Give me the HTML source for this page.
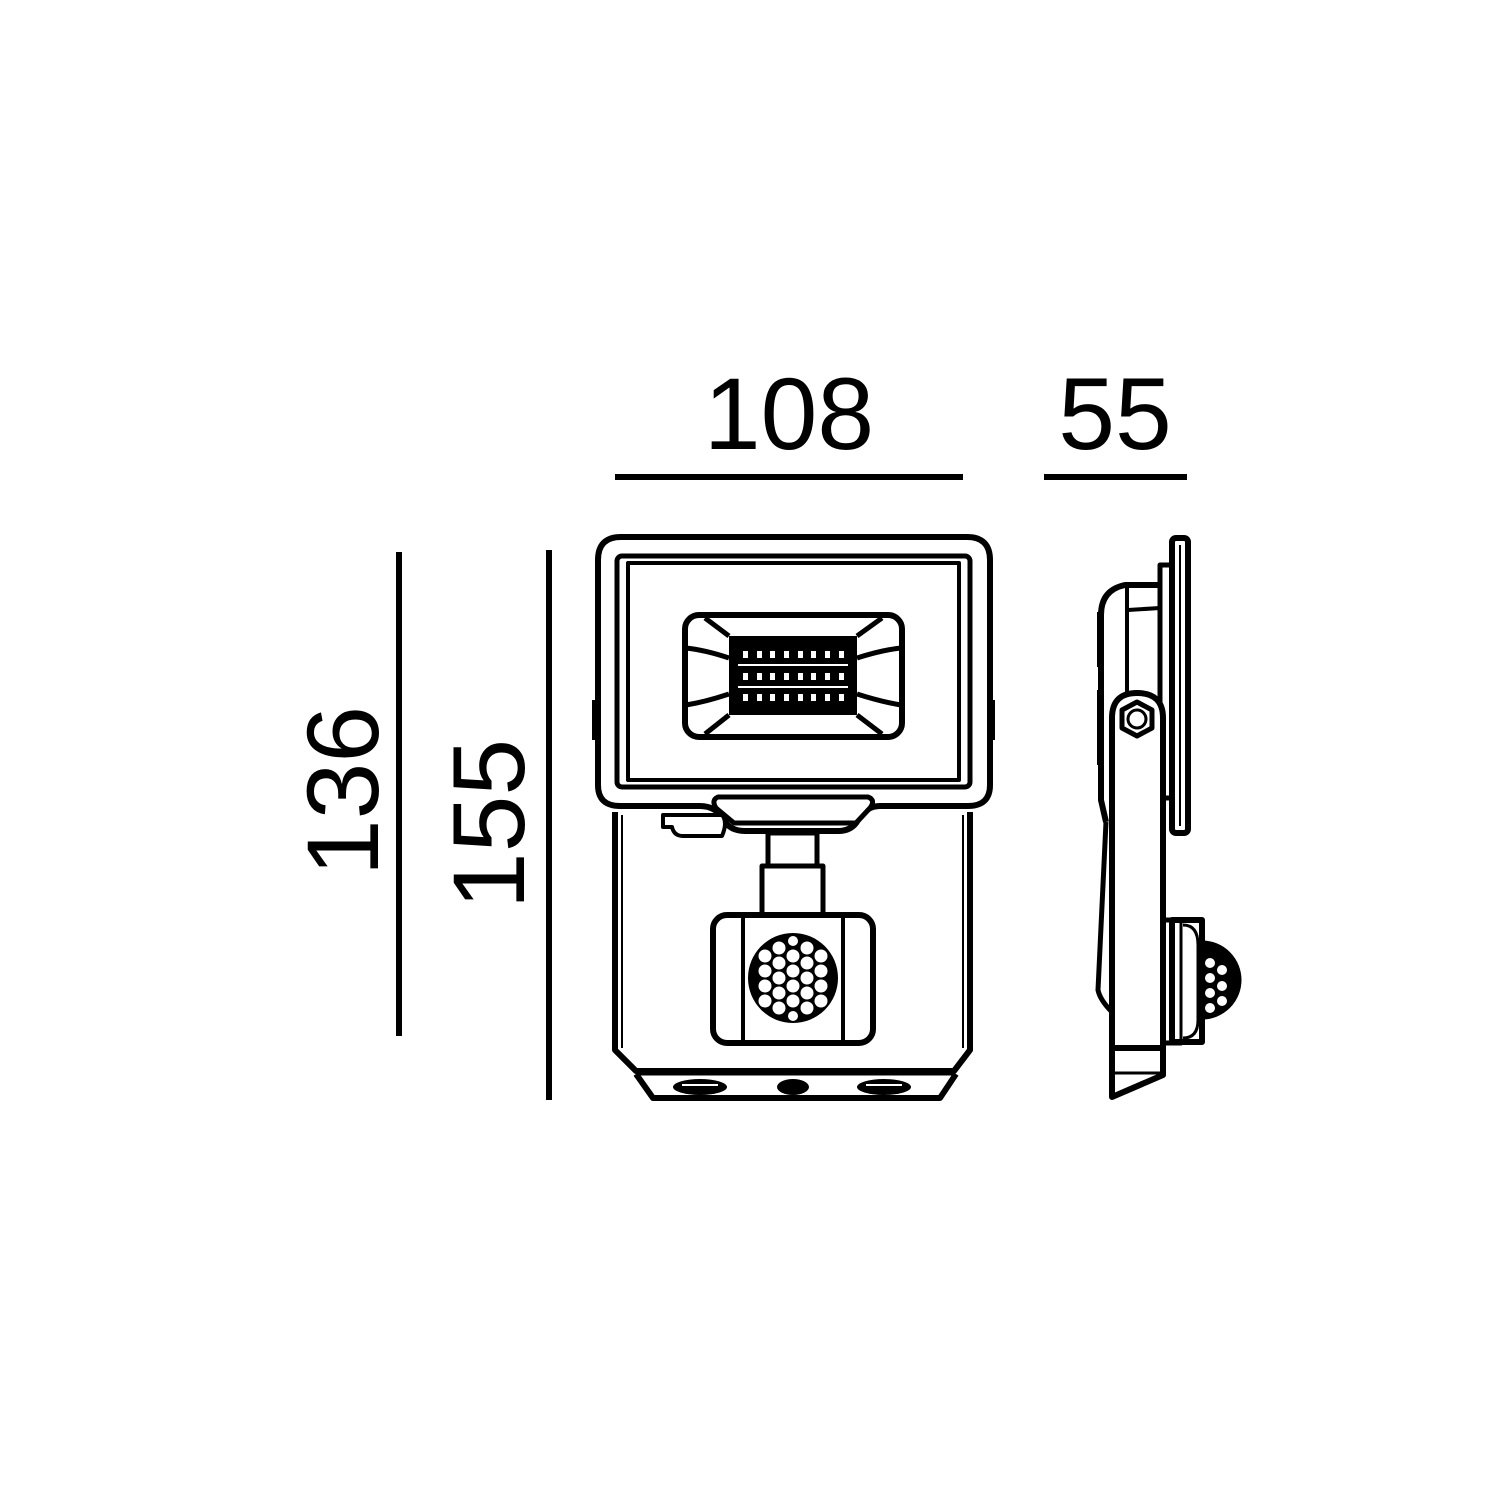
<!DOCTYPE html>
<html><head><meta charset="utf-8"><style>
html,body{margin:0;padding:0;background:#fff;}
svg{display:block;}
text{font-family:"Liberation Sans",sans-serif;fill:#000;}
</style></head><body>
<svg width="1500" height="1500" viewBox="0 0 1500 1500" xmlns="http://www.w3.org/2000/svg">
<rect width="1500" height="1500" fill="#fff"/>
<!-- dimensions -->
<text x="789" y="449" font-size="102" text-anchor="middle">108</text>
<line x1="615" y1="477" x2="963" y2="477" stroke="#000" stroke-width="6"/>
<text x="1115" y="449" font-size="102" text-anchor="middle">55</text>
<line x1="1044" y1="477" x2="1187" y2="477" stroke="#000" stroke-width="6"/>
<line x1="399" y1="552" x2="399" y2="1036" stroke="#000" stroke-width="6"/>
<line x1="549" y1="550" x2="549" y2="1100" stroke="#000" stroke-width="6"/>
<text transform="translate(378,791) rotate(-90)" font-size="102" text-anchor="middle">136</text>
<text transform="translate(524,824) rotate(-90)" font-size="102" text-anchor="middle">155</text>

<g fill="none" stroke="#000" stroke-linejoin="round">
<!-- front view -->
<rect x="592" y="700" width="6" height="40" fill="#000" stroke="none"/>
<rect x="990" y="700" width="5" height="40" fill="#000" stroke="none"/>
<!-- lower body -->
<path d="M615 812 V1050 L636 1071 H954 L970 1050 V812" stroke-width="6"/>
<line x1="622" y1="815" x2="622" y2="1048" stroke-width="2"/>
<line x1="963" y1="815" x2="963" y2="1048" stroke-width="2"/>
<line x1="636" y1="1072" x2="954" y2="1072" stroke-width="7"/>
<path d="M636 1074 L653 1098 H940 L956 1074" stroke-width="6"/>
<ellipse cx="700" cy="1087" rx="27" ry="8" fill="#000" stroke="none"/>
<line x1="682" y1="1085" x2="718" y2="1085" stroke="#fff" stroke-width="2"/>
<ellipse cx="884" cy="1087" rx="27" ry="8" fill="#000" stroke="none"/>
<line x1="866" y1="1085" x2="902" y2="1085" stroke="#fff" stroke-width="2"/>
<ellipse cx="793" cy="1087" rx="16" ry="8" fill="#000" stroke="none"/>
<!-- outer frame -->
<path d="M598 560 Q598 537 621 537 H967 Q990 537 990 560 V785 Q990 806 968 806 H880 Q866 806 858 820 Q852 831 838 831 H745 Q730 831 724 820 Q716 806 700 806 H620 Q598 806 598 785 Z" fill="#fff" stroke-width="6"/>
<rect x="617" y="556" width="353" height="231" rx="5" stroke-width="5"/>
<rect x="628" y="563" width="331" height="217" stroke-width="4"/>
<!-- connector blob -->
<path d="M663 815 H722 Q728 822 722 836 H683 Q674 836 672 827 H663 Z" fill="#fff" stroke-width="4"/>
<!-- hinge bar -->
<path d="M718 797 H868 Q876 800 870 808 L856 823 H734 L716 808 Q711 800 718 797 Z" fill="#fff" stroke-width="5"/>
<!-- LED module -->
<rect x="685" y="615" width="217" height="122" rx="14" stroke-width="6"/>
<rect x="729" y="636" width="128" height="79" fill="#000" stroke="none"/>
<path d="M705 618 L729 636 M686 648 Q705 650 729 658 M686 705 Q705 702 729 694 M705 734 L729 715 M882 618 L857 636 M901 648 Q882 650 857 658 M901 705 Q882 702 857 694 M882 734 L857 715" stroke-width="5"/>
<g fill="#fff" stroke="none">
<rect x="743" y="651" width="5" height="7"/><rect x="757" y="651" width="5" height="7"/><rect x="770" y="651" width="5" height="7"/><rect x="784" y="651" width="5" height="7"/><rect x="798" y="651" width="5" height="7"/><rect x="811" y="651" width="5" height="7"/><rect x="825" y="651" width="5" height="7"/><rect x="839" y="651" width="5" height="7"/>
<rect x="743" y="673" width="5" height="7"/><rect x="757" y="673" width="5" height="7"/><rect x="770" y="673" width="5" height="7"/><rect x="784" y="673" width="5" height="7"/><rect x="798" y="673" width="5" height="7"/><rect x="811" y="673" width="5" height="7"/><rect x="825" y="673" width="5" height="7"/><rect x="839" y="673" width="5" height="7"/>
<rect x="743" y="694" width="5" height="7"/><rect x="757" y="694" width="5" height="7"/><rect x="770" y="694" width="5" height="7"/><rect x="784" y="694" width="5" height="7"/><rect x="798" y="694" width="5" height="7"/><rect x="811" y="694" width="5" height="7"/><rect x="825" y="694" width="5" height="7"/><rect x="839" y="694" width="5" height="7"/>
<rect x="738" y="664" width="110" height="2"/><rect x="738" y="686" width="110" height="2"/>
</g>
<!-- neck -->
<rect x="768" y="833" width="49" height="33" stroke-width="5"/>
<rect x="762" y="866" width="61" height="49" stroke-width="5"/>
<!-- sensor -->
<rect x="713" y="915" width="160" height="128" rx="14" fill="#fff" stroke-width="6"/>
<line x1="743" y1="917" x2="743" y2="1041" stroke-width="4"/>
<line x1="843" y1="917" x2="843" y2="1041" stroke-width="4"/>
<circle cx="793" cy="978" r="45" fill="#000" stroke="none"/>
<g fill="#fff" stroke="none">
<circle cx="793" cy="956" r="6.5"/><circle cx="793" cy="971" r="6.5"/><circle cx="793" cy="986" r="6.5"/><circle cx="793" cy="1001" r="6.5"/>
<circle cx="779" cy="948" r="6.5"/><circle cx="779" cy="963" r="6.5"/><circle cx="779" cy="978" r="6.5"/><circle cx="779" cy="993" r="6.5"/><circle cx="779" cy="1008" r="6.5"/>
<circle cx="807" cy="948" r="6.5"/><circle cx="807" cy="963" r="6.5"/><circle cx="807" cy="978" r="6.5"/><circle cx="807" cy="993" r="6.5"/><circle cx="807" cy="1008" r="6.5"/>
<circle cx="765" cy="956" r="6.5"/><circle cx="765" cy="971" r="6.5"/><circle cx="765" cy="986" r="6.5"/><circle cx="765" cy="1001" r="6.5"/>
<circle cx="821" cy="956" r="6.5"/><circle cx="821" cy="971" r="6.5"/><circle cx="821" cy="986" r="6.5"/><circle cx="821" cy="1001" r="6.5"/>
<circle cx="793" cy="941" r="5"/><circle cx="793" cy="1016" r="5"/>
</g>

<!-- side view -->
<rect x="1172" y="538" width="16" height="295" rx="4" stroke-width="6"/>
<line x1="1180" y1="545" x2="1180" y2="826" stroke-width="2"/>
<rect x="1160" y="565" width="12" height="233" stroke-width="5"/>
<path d="M1160 585 H1125 Q1101 590 1101 615 V800 L1106 822" stroke-width="6"/>
<line x1="1128" y1="610" x2="1160" y2="608" stroke-width="4"/>
<line x1="1127" y1="585" x2="1127" y2="700" stroke-width="4"/>
<rect x="1097" y="612" width="5" height="55" fill="#000" stroke="none"/>
<rect x="1097" y="690" width="5" height="75" fill="#000" stroke="none"/>
<path d="M1106 822 L1098 990 Q1100 1000 1112 1012" stroke-width="5"/>
<line x1="1164" y1="920" x2="1202" y2="920" stroke-width="5"/>
<path d="M1202 943 a37 37 0 0 1 0 74 Z" fill="#000" stroke-width="5"/>
<g fill="#fff" stroke="none">
<circle cx="1210" cy="963" r="5"/><circle cx="1222" cy="970" r="5"/><circle cx="1210" cy="978" r="5"/><circle cx="1222" cy="986" r="5"/><circle cx="1210" cy="993" r="5"/><circle cx="1222" cy="1001" r="5"/><circle cx="1210" cy="1008" r="5"/>
</g>
<rect x="1172" y="920" width="30" height="122" fill="#fff" stroke-width="6"/>
<line x1="1181" y1="922" x2="1181" y2="1040" stroke-width="3"/>
<path d="M1183 925 Q1198 925 1198 945 V1020 Q1198 1038 1183 1038" stroke-width="3"/>
<line x1="1164" y1="1043" x2="1182" y2="1043" stroke-width="5"/>
<!-- arm -->
<path d="M1112 1048 V718 Q1112 693 1137 693 Q1163 693 1163 718 V1048 Z" fill="#fff" stroke-width="6"/>
<polygon points="1137,702 1152,710 1152,728 1137,736 1122,728 1122,710" stroke-width="5"/>
<circle cx="1137" cy="719" r="9" stroke-width="3"/>
<path d="M1112 1048 V1097 L1163 1075 V1048 Z" stroke-width="6"/>
<line x1="1112" y1="1073" x2="1160" y2="1073" stroke-width="3"/>
</g>
</svg>
</body></html>
